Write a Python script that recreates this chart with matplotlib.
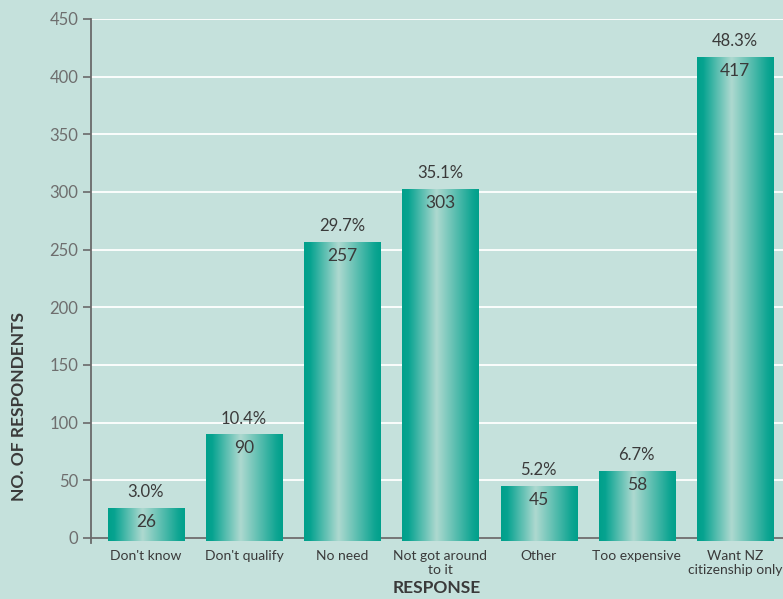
import matplotlib
matplotlib.use("Agg")
import matplotlib.pyplot as plt
import numpy as np
from matplotlib.colors import LinearSegmentedColormap
from matplotlib.patches import Rectangle

categories = ["Don't know", "Don't qualify", "No need", "Not got around\nto it",
              "Other", "Too expensive", "Want NZ\ncitizenship only"]
counts = [26, 90, 257, 303, 45, 58, 417]
percent_labels = ["3.0%", "10.4%", "29.7%", "35.1%", "5.2%", "6.7%", "48.3%"]
y_ticks = [0, 50, 100, 150, 200, 250, 300, 350, 400, 450]

BG = "#c5e1dc"
AXIS = "#6a6a6a"
TEXT = "#3a3a3a"
plt.rcParams['font.family'] = ['Lato', 'DejaVu Sans']

fig = plt.figure(figsize=(7.83, 5.99), dpi=100, facecolor=BG)
ax = fig.add_axes([0.1162, 0.0942, 0.8838, 0.8741], facecolor=BG)

x = np.arange(len(categories))
width = 0.776
base = -2.5

ax.set_yticks(y_ticks)
ax.grid(axis='y', color='white', linewidth=1.3, zorder=0)
ax.set_axisbelow(True)

bar_cmap = LinearSegmentedColormap.from_list(
    "bar", [(0.0, "#00a08b"), (0.08, "#06a390"), (0.45, "#aed9d0"),
            (0.92, "#0ea592"), (1.0, "#00a08b")])
grad = np.linspace(0, 1, 256).reshape(1, -1)

bars = ax.bar(x, [c - base for c in counts], bottom=base, width=width,
              color='none', edgecolor='none', zorder=2)
for rect in bars:
    x0, y0 = rect.get_x(), rect.get_y()
    w, h = rect.get_width(), rect.get_height()
    im = ax.imshow(grad, cmap=bar_cmap, aspect='auto',
                   extent=(x0, x0 + w, y0, y0 + h), zorder=2,
                   interpolation='bicubic')
    clip = Rectangle((x0, y0), w, h, transform=ax.transData)
    im.set_clip_path(clip)

ax.set_xlim(-0.56, 6.49)
ax.set_ylim(-4, 450)

ax.axhline(0, color=AXIS, linewidth=1.3, zorder=1.5)

for xi, c, p in zip(x, counts, percent_labels):
    ax.annotate(p, (xi, c), xytext=(0, 5.5), textcoords='offset points',
                ha='center', va='bottom', fontsize=12, color=TEXT, zorder=4)
    ax.annotate(str(c), (xi, c), xytext=(0, -4.5), textcoords='offset points',
                ha='center', va='top', fontsize=12.5, color=TEXT, zorder=4)

ax.set_xticks(x)
ax.set_xticklabels(categories, fontsize=10, color=TEXT, linespacing=1.25)
ax.tick_params(axis='x', length=0, pad=5)
ax.tick_params(axis='y', length=6, width=1.2, color=AXIS, labelcolor="#6e6e6e",
               labelsize=12, pad=3)

for s in ['top', 'right', 'bottom']:
    ax.spines[s].set_visible(False)
ax.spines['left'].set_color(AXIS)
ax.spines['left'].set_linewidth(1.3)

ax.set_ylabel("NO. OF RESPONDENTS", fontsize=12.5, fontweight='bold',
              color=TEXT)
ax.yaxis.set_label_coords(-0.0925, 0.259)
ax.set_xlabel("RESPONSE", fontsize=12.5, fontweight='bold', color=TEXT,
              labelpad=3)

fig.savefig("out.png", dpi=100, facecolor=BG)
